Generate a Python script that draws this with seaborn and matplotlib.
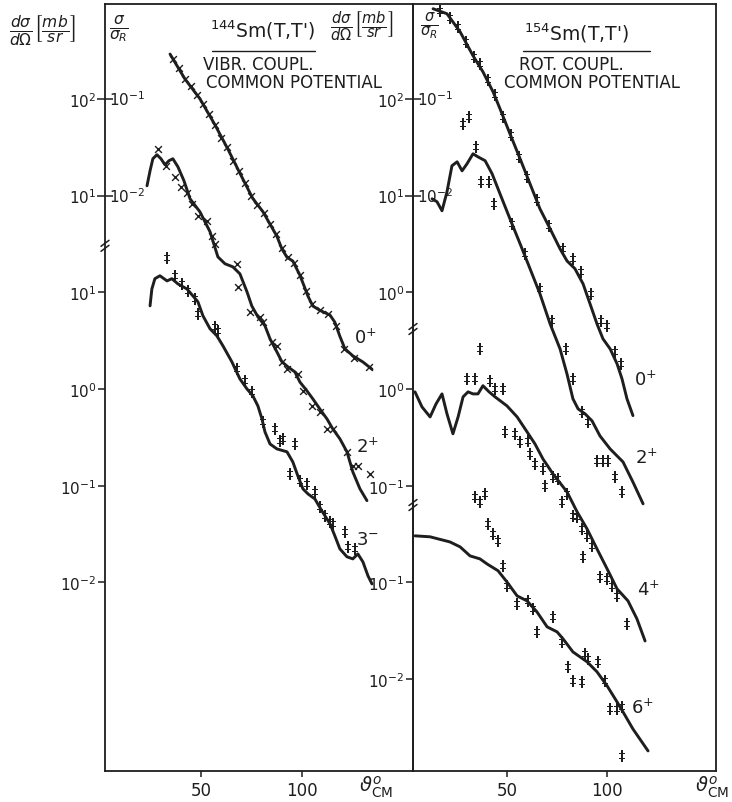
import numpy as np
import pandas as pd
import matplotlib
matplotlib.use("Agg")
import matplotlib.pyplot as plt
from matplotlib.ticker import FixedLocator, FixedFormatter
from matplotlib.lines import Line2D
import seaborn as sns

sns.set_theme(style="white")
plt.rcParams["font.family"] = ["DejaVu Sans Condensed", "DejaVu Sans"]
plt.rcParams["mathtext.fontset"] = "dejavusans"

INK = "#1e1e1e"

# ---------------- 144Sm(t,t'), vibrational coupling ----------------
# elastic 0+ : sigma / sigma_Rutherford
th_144_0p_calc = [34.7, 42.1, 49.5, 56.9, 63.4, 69.3, 75.7, 80.7, 87.6, 90.1, 92.6, 95.5,
                  99.0, 101.5, 103.0, 105.4, 108.9, 113.9, 116.3, 118.8, 121.3, 125.2, 130.2, 134.7]
r_144_0p_calc = [0.29, 0.16, 0.10, 0.054, 0.030, 0.017, 0.0093, 0.0068, 0.0038, 0.0028, 0.0023, 0.0021,
                 0.0015, 0.0011, 9.1e-4, 7.2e-4, 6.5e-4, 5.8e-4, 4.9e-4, 3.5e-4, 2.6e-4, 2.2e-4, 1.9e-4, 1.6e-4]
th_144_0p_exp = [36, 39, 42, 45, 48, 51, 54, 57, 60, 63, 66, 69, 72, 75, 78, 81, 84, 87, 90, 93,
                 96, 99, 102, 105, 109, 113, 117, 121, 126, 133]
r_144_0p_exp = [0.26, 0.21, 0.16, 0.135, 0.11, 0.089, 0.069, 0.054, 0.039, 0.032, 0.023, 0.018, 0.0135,
                0.010, 0.0080, 0.0066, 0.0051, 0.0040, 0.0029, 0.0023, 0.0020, 0.0015, 0.00102, 0.00076,
                0.00065, 0.00059, 0.00045, 0.00026, 0.00021, 0.00017]

# inelastic 2+ : dsigma/dOmega [mb/sr]
th_144_2p_calc = [23.3, 24.8, 26.2, 28.2, 30.2, 32.2, 34.2, 36.1, 38.6, 41.6, 44.6, 49.5, 54.5, 58.4,
                  61.9, 65.8, 69.3, 72.8, 75.2, 78.2, 81.7, 84.2, 87.6, 90.1, 93.1, 96.5, 99.0, 102.5,
                  105.4, 108.9, 112.4, 115.3, 118.8, 122.3, 125.2, 128.7, 132.2]
xs_144_2p_calc = [12.6, 18.0, 24.0, 26.4, 24.0, 20.8, 22.9, 24.0, 19.8, 14.2, 9.25, 6.78, 4.22, 2.32,
                  1.97, 1.83, 1.55, 1.01, 0.72, 0.557, 0.450, 0.330, 0.242, 0.191, 0.169, 0.150, 0.118,
                  0.0955, 0.079, 0.062, 0.049, 0.0386, 0.0305, 0.0224, 0.0139, 0.0093, 0.0070]
th_144_2p_exp = [28.7, 32.7, 37.1, 40.1, 43.1, 45.5, 48.5, 53.0, 55.4, 56.9, 67.8, 68.3, 74.3, 79.2,
                 80.7, 85.1, 87.6, 90.1, 92.6, 98.0, 100.5, 105.0, 108.9, 112.4, 115.3, 122.3, 125.2,
                 127.7, 133.7]
xs_144_2p_exp = [30.4, 20.3, 15.6, 12.3, 10.7, 8.20, 6.17, 5.47, 3.83, 3.17, 1.97, 1.14, 0.627, 0.557,
                 0.494, 0.307, 0.279, 0.191, 0.161, 0.143, 0.0955, 0.0668, 0.0579, 0.0386, 0.0386,
                 0.0224, 0.0160, 0.0160, 0.0132]

# inelastic 3- : dsigma/dOmega [mb/sr]
th_144_3m_calc = [24.8, 25.7, 27.2, 29.7, 33.2, 35.6, 38.6, 43.1, 46.0, 48.5, 51.0, 54.5, 57.9, 60.9,
                  65.3, 69.3, 72.8, 75.7, 78.2, 80.2, 81.7, 84.2, 87.6, 92.6, 95.5, 98.0, 100.5, 103.0,
                  106.4, 109.9, 113.9, 116.3, 118.8, 122.3, 125.2, 127.7, 130.2, 132.7, 134.7]
xs_144_3m_calc = [7.23, 10.8, 13.8, 14.8, 13.1, 13.8, 12.2, 10.8, 9.18, 7.96, 5.70, 4.19, 3.54, 2.79,
                  1.91, 1.27, 1.00, 0.849, 0.668, 0.491, 0.360, 0.270, 0.240, 0.224, 0.176, 0.126,
                  0.0927, 0.0822, 0.0730, 0.0548, 0.0403, 0.0303, 0.0222, 0.0184, 0.0175, 0.0197,
                  0.0163, 0.0117, 0.00964]
th_144_3m_exp = [33.2, 37.1, 40.6, 43.6, 47.0, 48.5, 56.9, 58.4, 67.8, 71.8, 75.2, 80.7, 86.6, 89.1,
                 90.6, 96.5, 94.1, 99.0, 102.5, 106.4, 108.9, 111.4, 113.9, 115.3, 121.3, 122.8, 126.2]
xs_144_3m_exp = [22.7, 14.8, 12.2, 10.3, 8.55, 5.98, 4.39, 3.99, 1.61, 1.21, 0.933, 0.457, 0.386, 0.290,
                 0.305, 0.270, 0.132, 0.112, 0.104, 0.0863, 0.0604, 0.0488, 0.0423, 0.0403, 0.0333,
                 0.0233, 0.0222]

# ---------------- 154Sm(t,t'), rotational coupling ----------------
th_154_0p_calc = [12.6, 19.6, 26.2, 32.7, 37.7, 42.8, 46.3, 51.3, 56.4, 61.4, 66.4, 71.5, 76.5, 80.0,
                  84.0, 88.1, 91.6, 95.1, 98.1, 101.7, 105.2, 107.7, 110.2, 113.2]
r_154_0p_calc = [0.853, 0.757, 0.493, 0.279, 0.190, 0.118, 0.0788, 0.0435, 0.0240, 0.0132, 0.00728,
                 0.00453, 0.00281, 0.00211, 0.00175, 0.00122, 7.59e-4, 4.71e-4, 3.30e-4, 2.60e-4,
                 1.82e-4, 1.27e-4, 7.9e-5, 5.3e-5]
th_154_0p_exp = [16, 21, 25, 29, 33, 36, 40, 44, 48, 52, 56, 60, 65, 71, 78, 83, 87, 92, 97, 100, 104, 107]
r_154_0p_exp = [0.80, 0.69, 0.55, 0.39, 0.27, 0.23, 0.155, 0.11, 0.065, 0.042, 0.025, 0.0155, 0.0090,
                0.0048, 0.0028, 0.0022, 0.0016, 0.00095, 0.00050, 0.00045, 0.00024, 0.00018]

th_154_2p_calc = [12.1, 14.6, 17.1, 19.6, 22.1, 24.7, 27.2, 29.7, 32.7, 35.2, 38.8, 42.3, 46.3, 51.3,
                  56.4, 61.4, 66.4, 71.5, 76.5, 80.0, 83.0, 85.6, 89.1, 92.6, 96.6, 101.7, 108.2, 113.2, 118.3]
xs_154_2p_calc = [9.25, 8.61, 6.95, 10.9, 20.3, 22.3, 18.0, 21.3, 27.0, 25.1, 22.9, 16.8, 10.4, 5.74,
                  3.17, 1.75, 0.962, 0.471, 0.260, 0.143, 0.079, 0.0622, 0.0553, 0.0468, 0.0327, 0.0240,
                  0.0176, 0.0109, 0.00649]
th_154_2p_exp = [27.7, 30.7, 34.2, 36.7, 40.8, 43.3, 52.3, 58.9, 66.4, 72.5, 79.5, 83.0, 87.6, 90.6,
                 95.1, 98.1, 100.7, 104.2, 107.7]
xs_154_2p_exp = [55.1, 65.2, 31.9, 13.9, 13.9, 8.20, 5.10, 2.49, 1.08, 0.506, 0.260, 0.127, 0.0579,
                 0.0457, 0.0180, 0.0180, 0.0180, 0.0123, 0.00863]

th_154_4p_calc = [3.5, 7.0, 11.1, 14.1, 17.1, 19.6, 22.6, 25.2, 27.7, 30.2, 32.7, 35.2, 37.7, 40.8, 43.8,
                  49.8, 54.9, 59.9, 63.9, 67.9, 73.0, 80.0, 85.1, 90.1, 95.1, 100.2, 105.2, 110.7, 115.2, 119.3]
xs_154_4p_calc = [0.933, 0.653, 0.514, 0.701, 0.889, 0.553, 0.344, 0.514, 0.828, 0.933, 0.889, 0.889,
                  1.08, 0.933, 0.828, 0.668, 0.514, 0.360, 0.270, 0.189, 0.132, 0.0863, 0.0536, 0.0357,
                  0.0222, 0.0138, 0.00857, 0.00644, 0.00420, 0.00248]
th_154_4p_exp = [29.7, 33.7, 36.2, 41.3, 43.8, 47.8, 48.8, 53.9, 56.4, 60.4, 61.4, 63.9, 67.9, 68.9,
                 73.0, 75.5, 77.5, 80.0, 83.0, 85.1, 87.6, 88.1, 90.1, 92.6, 96.6, 100.2, 102.7, 105.2, 110.2]
xs_154_4p_exp = [1.27, 1.27, 2.60, 1.21, 1.00, 1.00, 0.360, 0.344, 0.284, 0.290, 0.213, 0.168, 0.149,
                 0.0995, 0.123, 0.117, 0.0680, 0.0822, 0.0488, 0.0475, 0.0357, 0.0184, 0.0303, 0.0238,
                 0.0114, 0.0109, 0.00920, 0.00725, 0.00372]

th_154_6p_calc = [3.5, 11.1, 21.1, 26.2, 31.2, 36.2, 39.8, 45.3, 49.8, 54.9, 59.9, 64.9, 70.0, 75.0,
                  78.0, 83.0, 90.1, 95.1, 100.2, 105.2, 108.2, 113.2, 120.8]
xs_154_6p_calc = [0.303, 0.296, 0.262, 0.233, 0.188, 0.175, 0.155, 0.132, 0.101, 0.0725, 0.0644,
                  0.0495, 0.0347, 0.0308, 0.0261, 0.0191, 0.0151, 0.0119, 0.00851, 0.00581, 0.00458,
                  0.00305, 0.00181]
th_154_6p_exp = [33.7, 36.2, 38.8, 40.3, 42.8, 45.3, 47.8, 49.8, 54.9, 60.4, 62.9, 64.9, 73.0, 77.5,
                 80.5, 83.0, 87.6, 89.1, 90.6, 95.6, 99.1, 101.7, 105.2, 107.7, 107.7]
xs_154_6p_exp = [0.766, 0.680, 0.822, 0.403, 0.318, 0.269, 0.148, 0.0920, 0.0600, 0.0644, 0.0532,
                 0.0308, 0.0440, 0.0243, 0.0134, 0.00958, 0.00936, 0.0182, 0.0162, 0.0151, 0.00958,
                 0.00492, 0.00492, 0.00516, 0.00161]

# ---------------- figure layout ----------------
W, H = 732, 803
fig = plt.figure(figsize=(W / 100, H / 100), dpi=100)
fig.patch.set_facecolor("white")


def frame(x0, y0, x1, y1):
    return [x0 / W, 1 - y1 / H, (x1 - x0) / W, (y1 - y0) / H]


def px(x, y):
    return x / W, 1 - y / H


axL = fig.add_axes(frame(105, 5, 413, 772))
axR = fig.add_axes(frame(413, 5, 716, 772))

# each group sits on a shared log axis, moved by a whole number of decades
YLIM = (10 ** -6.95, 10 ** 0.98)
XLIM = (2.5, 155)
X_MARK = "x"
D_MARK = r"$\ddagger$"


def curve(ax, th, val, shift):
    d = pd.DataFrame({"theta": th, "y": np.asarray(val) * 10.0 ** shift})
    sns.lineplot(data=d, x="theta", y="y", ax=ax, color=INK, lw=2.1, sort=False,
                 estimator=None, solid_capstyle="round", solid_joinstyle="round")


def points(ax, th, val, shift, marker):
    d = pd.DataFrame({"theta": th, "y": np.asarray(val) * 10.0 ** shift})
    if marker == X_MARK:
        sns.scatterplot(data=d, x="theta", y="y", ax=ax, marker=marker, s=24,
                        color=INK, linewidth=1.0)
    else:
        sns.scatterplot(data=d, x="theta", y="y", ax=ax, marker=marker, s=75,
                        color=INK, linewidth=0)


curve(axL, th_144_0p_calc, r_144_0p_calc, 1)
points(axL, th_144_0p_exp, r_144_0p_exp, 1, X_MARK)
curve(axL, th_144_2p_calc, xs_144_2p_calc, -2)
points(axL, th_144_2p_exp, xs_144_2p_exp, -2, X_MARK)
curve(axL, th_144_3m_calc, xs_144_3m_calc, -3)
points(axL, th_144_3m_exp, xs_144_3m_exp, -3, D_MARK)

curve(axR, th_154_0p_calc, r_154_0p_calc, 1)
points(axR, th_154_0p_exp, r_154_0p_exp, 1, D_MARK)
curve(axR, th_154_2p_calc, xs_154_2p_calc, -2)
points(axR, th_154_2p_exp, xs_154_2p_exp, -2, D_MARK)
curve(axR, th_154_4p_calc, xs_154_4p_calc, -3)
points(axR, th_154_4p_exp, xs_154_4p_exp, -3, D_MARK)
curve(axR, th_154_6p_calc, xs_154_6p_calc, -4)
points(axR, th_154_6p_exp, xs_154_6p_exp, -4, D_MARK)

TICK_FS = 11


def style_axis(ax, major_vals, major_labels):
    ax.set_yscale("log")
    ax.set_ylim(*YLIM)
    ax.set_xlim(*XLIM)
    ax.set_xlabel("")
    ax.set_ylabel("")
    ax.yaxis.set_major_locator(FixedLocator(major_vals))
    ax.yaxis.set_major_formatter(FixedFormatter(major_labels))
    ax.yaxis.set_minor_locator(FixedLocator([1.0, 0.1]))
    ax.yaxis.set_minor_formatter(FixedFormatter(["$10^{2}$", "$10^{1}$"]))
    ax.tick_params(axis="y", which="major", direction="out", length=5, width=1.1,
                   pad=1, labelsize=TICK_FS, colors=INK, left=True, right=False)
    ax.tick_params(axis="y", which="minor", direction="inout", length=11, width=1.1,
                   pad=1, labelsize=TICK_FS, colors=INK, left=True, right=False)
    ax.set_xticks([50, 100])
    ax.set_xticklabels(["50", "100"])
    ax.tick_params(axis="x", which="major", direction="out", length=4, width=1.1,
                   pad=3, labelsize=12, colors=INK, bottom=True, top=False)
    for s in ax.spines.values():
        s.set_color(INK)
        s.set_linewidth(1.3)
    ax.set_facecolor("white")
    ax.patch.set_alpha(0)
    trans = ax.get_yaxis_transform()
    ax.text(0.012, 1.0, "$10^{-1}$", transform=trans, ha="left", va="center",
            fontsize=TICK_FS, color=INK)
    ax.text(0.012, 0.1, "$10^{-2}$", transform=trans, ha="left", va="center",
            fontsize=TICK_FS, color=INK)


style_axis(axL, [1e-2, 1e-3, 1e-4, 1e-5],
           ["$10^{1}$", "$10^{0}$", "$10^{-1}$", "$10^{-2}$"])
style_axis(axR, [1e-2, 1e-3, 1e-4, 1e-5, 1e-6],
           ["$10^{0}$", "$10^{0}$", "$10^{-1}$", "$10^{-1}$", "$10^{-2}$"])


def break_mark(ax, level):
    lo, hi = np.log10(YLIM)
    fy = (np.log10(level) - lo) / (hi - lo)
    pos = ax.get_position()
    wpx, hpx = pos.width * W, pos.height * H
    for off in (-2.5, 2.5):
        ax.plot([-4 / wpx, 4 / wpx], [fy + (off - 3) / hpx, fy + (off + 3) / hpx],
                transform=ax.transAxes, color=INK, lw=1.1, clip_on=False)


break_mark(axL, 10 ** -1.52)
break_mark(axR, 10 ** -2.38)
break_mark(axR, 10 ** -4.2)

# headers
frac_lbl = r"$\frac{d\sigma}{d\Omega}\left[\frac{mb}{sr}\right]$"
ratio_lbl = r"$\frac{\sigma}{\sigma_R}$"
fig.text(*px(43, 31), frac_lbl, ha="center", va="center", fontsize=16, color=INK)
fig.text(*px(362, 27), frac_lbl, ha="center", va="center", fontsize=15, color=INK)
fig.text(*px(119, 29), ratio_lbl, ha="center", va="center", fontsize=16, color=INK)
fig.text(*px(429, 26), ratio_lbl, ha="center", va="center", fontsize=15, color=INK)

TITLE_FS = 12
fig.text(*px(262, 30), "$^{144}$Sm(T,T')", ha="center", va="center", fontsize=13.5, color=INK)
fig.add_artist(Line2D([212 / W, 315 / W], [1 - 52 / H, 1 - 52 / H], color=INK, lw=1.0))
fig.text(*px(258, 65), "VIBR. COUPL.", ha="center", va="center", fontsize=TITLE_FS, color=INK)
fig.text(*px(294, 83), "COMMON POTENTIAL", ha="center", va="center", fontsize=TITLE_FS, color=INK)

fig.text(*px(576, 33), "$^{154}$Sm(T,T')", ha="center", va="center", fontsize=13.5, color=INK)
fig.add_artist(Line2D([523 / W, 650 / W], [1 - 52 / H, 1 - 52 / H], color=INK, lw=1.0))
fig.text(*px(571, 65), "ROT. COUPL.", ha="center", va="center", fontsize=TITLE_FS, color=INK)
fig.text(*px(592, 83), "COMMON POTENTIAL", ha="center", va="center", fontsize=TITLE_FS, color=INK)

# state labels
for (x, y, s) in [(365, 338, "0$^{+}$"), (367, 447, "2$^{+}$"), (367, 540, "3$^{-}$"),
                  (645, 380, "0$^{+}$"), (646, 458, "2$^{+}$"), (648, 590, "4$^{+}$"),
                  (642, 708, "6$^{+}$")]:
    fig.text(*px(x, y), s, ha="center", va="center", fontsize=13, color=INK)

# angle axis labels
ang = r"$\vartheta^{o}_{\mathrm{CM}}$"
fig.text(*px(376, 787), ang, ha="center", va="center", fontsize=14, color=INK)
fig.text(*px(712, 787), ang, ha="center", va="center", fontsize=14, color=INK)

fig.savefig("out.png", dpi=100, facecolor="white")
